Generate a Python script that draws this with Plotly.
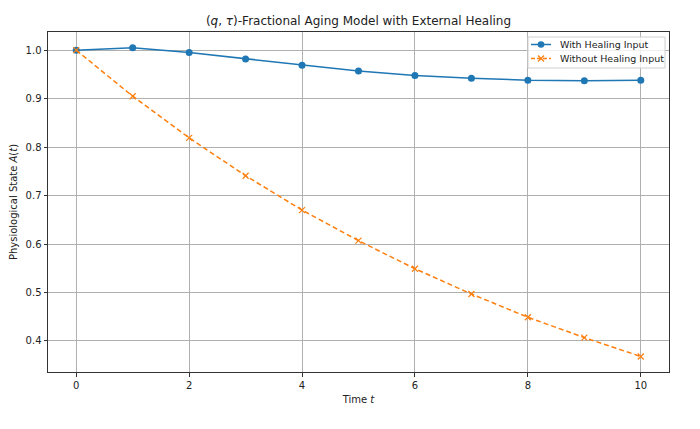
import plotly.graph_objects as go

t = [0, 1, 2, 3, 4, 5, 6, 7, 8, 9, 10]
with_healing = [1.000, 1.005, 0.995, 0.982, 0.969, 0.957, 0.948, 0.942, 0.938, 0.937, 0.938]
without_healing = [1.000, 0.905, 0.819, 0.741, 0.670, 0.607, 0.549, 0.497, 0.449, 0.407, 0.368]
series_names = ["With Healing Input", "Without Healing Input"]
x_ticks = [0, 2, 4, 6, 8, 10]
y_ticks = [0.4, 0.5, 0.6, 0.7, 0.8, 0.9, 1.0]

FONT = "DejaVu Sans"
BLUE, ORANGE = "#1f77b4", "#ff7f0e"
# page has an 8px body margin, so figure is drawn at (8, 8)
W, H = 692, 421
L, R, T, B = 40, 661, 24, 364


def px(xp):
    return (xp - L) / (R - L)


def py(yp):
    return 1 - (yp - T) / (B - T)


fig = go.Figure()
fig.add_trace(go.Scatter(
    x=t, y=with_healing, mode="lines+markers", name=series_names[0],
    line=dict(color=BLUE, width=1.5),
    marker=dict(symbol="circle", size=7, color=BLUE),
))
fig.add_trace(go.Scatter(
    x=t, y=without_healing, mode="lines+markers", name=series_names[1],
    line=dict(color=ORANGE, width=1.5, dash="5px,3px"),
    marker=dict(symbol="x-thin", size=6, color=ORANGE,
                line=dict(color=ORANGE, width=1.2)),
))

axis_common = dict(
    showgrid=True, gridcolor="#b0b0b0", gridwidth=0.8,
    showline=True, linecolor="#333333", linewidth=1, mirror=True,
    ticks="outside", ticklen=3.5, tickwidth=0.8, tickcolor="#333333",
    zeroline=False, automargin=False,
    tickfont=dict(family=FONT, size=10, color="#222222"),
)

# custom compact legend (matplotlib-like)
lx0, lx1, ly0, ly1 = 520, 657, 29, 60
rows = [36.5, 50.5]
seg0, seg1, mx, tx = 523, 543, 533, 550
shapes = [dict(type="rect", xref="paper", yref="paper",
               x0=px(lx0), x1=px(lx1), y0=py(ly1), y1=py(ly0),
               line=dict(color="#d0d0d0", width=1), fillcolor="rgba(255,255,255,0.8)",
               layer="above")]
annotations = []
for i, (name, color) in enumerate(zip(series_names, [BLUE, ORANGE])):
    yr = rows[i]
    shapes.append(dict(type="line", xref="paper", yref="paper",
                       x0=px(seg0), x1=px(seg1), y0=py(yr), y1=py(yr),
                       line=dict(color=color, width=1.5, dash="solid" if i == 0 else "4px,2px"),
                       layer="above"))
    if i == 0:
        shapes.append(dict(type="circle", xref="paper", yref="paper",
                           xsizemode="pixel", ysizemode="pixel",
                           xanchor=px(mx), yanchor=py(yr),
                           x0=-3.3, x1=3.3, y0=-3.3, y1=3.3,
                           line=dict(color=color, width=0), fillcolor=color, layer="above"))
    else:
        for d in (1, -1):
            shapes.append(dict(type="line", xref="paper", yref="paper",
                               xsizemode="pixel", ysizemode="pixel",
                               xanchor=px(mx), yanchor=py(yr),
                               x0=-3, x1=3, y0=-3 * d, y1=3 * d,
                               line=dict(color=color, width=1.2), layer="above"))
    annotations.append(dict(xref="paper", yref="paper", x=px(tx), y=py(yr),
                            xanchor="left", yanchor="middle", showarrow=False,
                            text=name, font=dict(family=FONT, size=9.5, color="#222222")))

fig.update_layout(
    width=W, height=H,
    paper_bgcolor="white", plot_bgcolor="white",
    margin=dict(l=L, r=W - R, t=T, b=H - B, pad=0, autoexpand=False),
    title=dict(
        text="(<i>q</i>, <i>τ</i>)-Fractional Aging Model with External Healing",
        x=(L + R) / 2 / W, xanchor="center", y=1 - 13 / H, yanchor="middle",
        font=dict(family=FONT, size=12, color="#222222"),
    ),
    font=dict(family=FONT, size=10, color="#222222"),
    xaxis=dict(
        range=[-0.5, 10.5], tickvals=x_ticks,
        title=dict(text="Time <i>t</i>", font=dict(family=FONT, size=10), standoff=6),
        **axis_common,
    ),
    yaxis=dict(
        range=[0.336, 1.0375], tickvals=y_ticks, tickformat=".1f",
        title=dict(text="Physiological State <i>A</i>(<i>t</i>)", font=dict(family=FONT, size=10), standoff=6),
        **axis_common,
    ),
    showlegend=False,
    shapes=shapes,
    annotations=annotations,
)

fig.write_html("out.html")
